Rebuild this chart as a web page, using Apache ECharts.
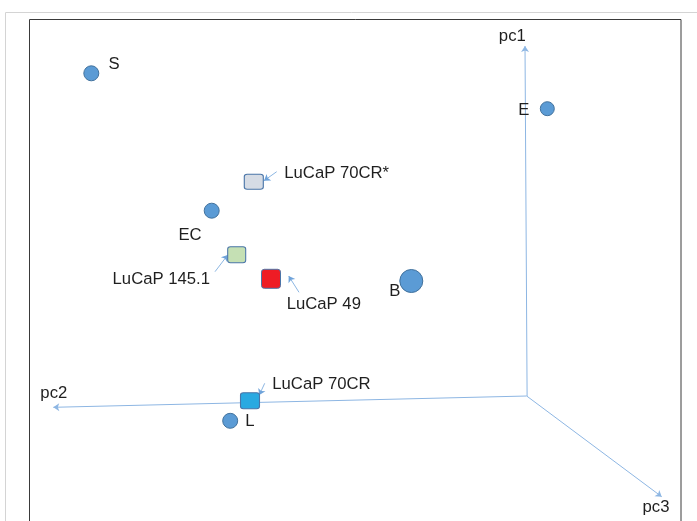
<!DOCTYPE html>
<html>
<head>
<meta charset="utf-8">
<script src="https://cdn.jsdelivr.net/npm/echarts@6/dist/echarts.min.js"></script>
<style>html,body{margin:0;padding:0;background:#fff}#c{width:697px;height:521px}</style>
</head>
<body>
<div id="c"></div>
<script>
// Projected positions (x right, y up), origin at the axes' origin
const sampleNames = ['S', 'E', 'EC', 'B', 'L'];
const sampleX = [-435.4, 20.6, -315.0, -115.4, -296.5];
const sampleY = [322.7, 287.3, 185.3, 115.0, -24.8];

const lucapNames = ['LuCaP 70CR*', 'LuCaP 145.1', 'LuCaP 49', 'LuCaP 70CR'];
const lucapX = [-272.9, -290.0, -255.7, -276.7];
const lucapY = [214.3, 141.3, 117.2, -4.7];

// Axis arrow tips (origin at 0,0)
const axisNames = ['pc1', 'pc2', 'pc3'];
const axisTipX = [-1.7, -473.4, 135.0];
const axisTipY = [350.0, -11.3, -100.7];
const axisBaseX = [0.4, 0, 0];

// Callout arrows: tail -> tip, one per LuCaP sample
const calloutTailX = [-250.0, -311.7, -227.7, -262.0];
const calloutTailY = [224.3, 124.3, 103.7, 12.7];
const calloutTipX = [-262.7, -299.0, -238.0, -267.4];
const calloutTipY = [215.3, 141.0, 120.0, 1.0];

// ---------- styles / layout (not data) ----------
const FONT = '"Liberation Sans", Arial, sans-serif';
const FS = 16.7;
const TXT = '#1f1f1f';
const DY = 1;
const ROUNDED = 'path://M3,0 L17,0 Q20,0 20,3 L20,17 Q20,20 17,20 L3,20 Q0,20 0,17 L0,3 Q0,0 3,0 Z';
const sampleStyle = {
  'S':  {size: 15, offset: [22.7, -9.6], align: 'center'},
  'E':  {size: 14, offset: [-23.6, 1], align: 'center'},
  'EC': {size: 15, offset: [-21.7, 23.3], align: 'center'},
  'B':  {size: 23, offset: [-16.6, 9.3], align: 'center'},
  'L':  {size: 15, offset: [15.1, -0.3], align: 'left'}
};
const lucapStyle = {
  'LuCaP 70CR*': {size: [19, 15], fill: '#D6DCE5', offset: [30.5, -9.2], align: 'left'},
  'LuCaP 145.1': {size: [18, 16], fill: '#C5E0B4', offset: [-26.7, 23.6], align: 'right'},
  'LuCaP 49':    {size: [19, 19], fill: '#EE1C25', offset: [15.7, 24.5], align: 'left'},
  'LuCaP 70CR':  {size: [19, 16], fill: '#29A9E1', offset: [22.3, -17], align: 'left'}
};
const axisLabelOffset = {
  'pc1': [-12.7, -10.5],
  'pc2': [0.5, -15.1],
  'pc3': [-5.7, 10]
};
const off = o => [o[0], o[1] + DY];

const chart = echarts.init(document.getElementById('c'), null, {renderer: 'canvas'});

const axisLines = axisNames.map((n, i) => ({
  coords: [[axisBaseX[i], 0], [axisTipX[i], axisTipY[i]]]
}));
const callouts = lucapNames.map((n, i) => ({
  coords: [[calloutTailX[i], calloutTailY[i]], [calloutTipX[i], calloutTipY[i]]]
}));

const labelBase = {show: true, position: 'inside', color: TXT, fontFamily: FONT, fontSize: FS, verticalAlign: 'middle', opacity: 1};

chart.setOption({
  animation: false,
  grid: {left: 0, right: 0, top: 0, bottom: 0},
  xAxis: {type: 'value', min: -526.7, max: 170.3, show: false},
  yAxis: {type: 'value', min: -125, max: 396, show: false},
  graphic: [
    {type: 'rect', shape: {x: 5.5, y: 12.5, width: 800, height: 700}, style: {fill: 'none', stroke: '#d4d4d4', lineWidth: 1}, silent: true, z: -10},
    {type: 'rect', shape: {x: 29.5, y: 19.5, width: 651.5, height: 700}, style: {fill: 'none', stroke: '#3a3a3a', lineWidth: 1}, silent: true, z: -9}
  ],
  series: [
    {
      type: 'lines', coordinateSystem: 'cartesian2d', z: 1,
      symbol: ['none', 'arrow'], symbolSize: 6,
      lineStyle: {color: '#8DB6E3', width: 1, opacity: 1},
      data: axisLines
    },
    {
      type: 'scatter', z: 2, silent: true, symbol: 'circle', symbolSize: 1,
      itemStyle: {color: 'rgba(0,0,0,0)', opacity: 1},
      data: axisNames.map((n, i) => ({
        value: [axisTipX[i], axisTipY[i]],
        label: Object.assign({}, labelBase, {formatter: n, offset: off(axisLabelOffset[n]), align: 'center'})
      }))
    },
    {
      type: 'lines', coordinateSystem: 'cartesian2d', z: 3,
      symbol: ['none', 'arrow'], symbolSize: 6,
      lineStyle: {color: '#6FA3DA', width: 0.8, opacity: 1},
      data: callouts
    },
    {
      type: 'scatter', z: 4, silent: true,
      data: sampleNames.map((n, i) => ({
        value: [sampleX[i], sampleY[i]],
        symbol: 'circle', symbolSize: sampleStyle[n].size,
        itemStyle: {color: '#5B9BD5', borderColor: '#41719C', borderWidth: 1, opacity: 1},
        label: Object.assign({}, labelBase, {formatter: n, offset: off(sampleStyle[n].offset), align: sampleStyle[n].align})
      }))
    },
    {
      type: 'scatter', z: 5, silent: true,
      data: lucapNames.map((n, i) => ({
        value: [lucapX[i], lucapY[i]],
        symbol: ROUNDED, symbolSize: lucapStyle[n].size,
        itemStyle: {color: lucapStyle[n].fill, borderColor: '#4A75A8', borderWidth: 1, opacity: 1},
        label: Object.assign({}, labelBase, {formatter: n, offset: off(lucapStyle[n].offset), align: lucapStyle[n].align})
      }))
    }
  ]
});
</script>
</body>
</html>
